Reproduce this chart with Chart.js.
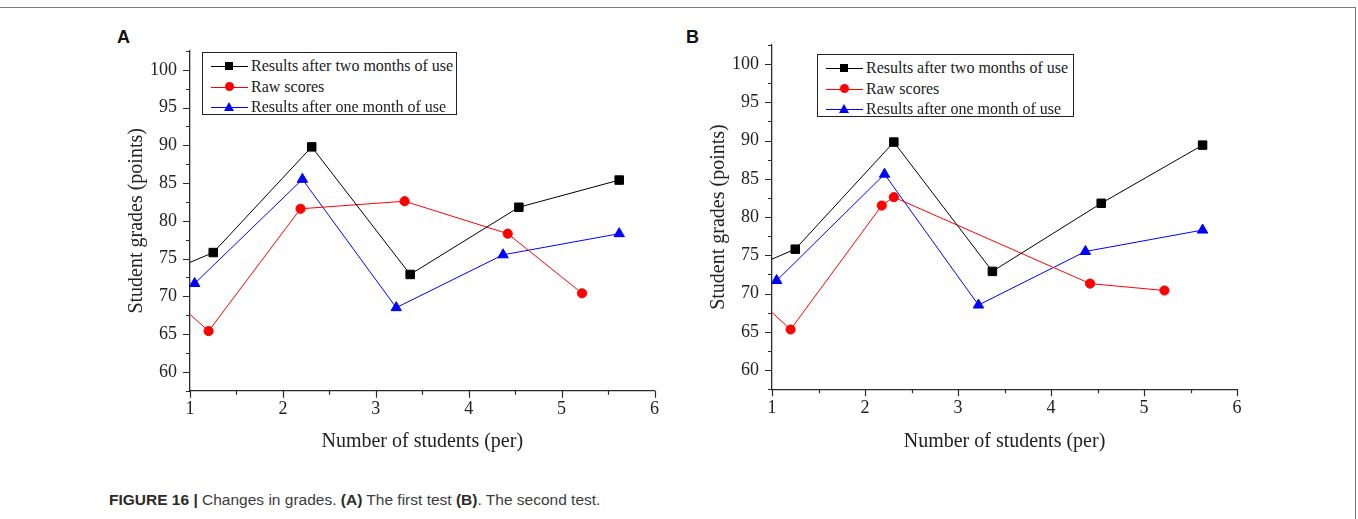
<!DOCTYPE html>
<html lang="en">
<head>
    <meta charset="UTF-8">
    <title>Changes in grades</title>
    <script src="https://cdn.jsdelivr.net/npm/chart.js@4"></script>
    <style>
        body {
            margin: 0;
            width: 1358px;
            height: 519px;
            background: #fff;
            position: relative;
            overflow: hidden;
            font-family: 'Liberation Serif', 'Times New Roman', serif;
        }
        #frame {
            position: absolute;
            left: -10px;
            top: 7px;
            width: 1365px;
            height: 600px;
            border-top: 1.5px solid #7a7a7a;
            border-right: 1.5px solid #7a7a7a;
        }
        canvas {
            position: absolute;
        }
        .tag {
            position: absolute;
            font: bold 18px/18px 'Liberation Sans', Arial, sans-serif;
            color: #111;
        }
        .legend {
            position: absolute;
            box-sizing: border-box;
            border: 1px solid #222;
            background: #fff;
        }
        .legend .row {
            position: absolute;
            left: 0;
            height: 20.5px;
            line-height: 20.5px;
            width: 100%;
            font-size: 16px;
            color: #222;
            white-space: nowrap;
        }
        .legend .ln {
            position: absolute;
            left: 8px;
            width: 37px;
            top: 10px;
            height: 0;
            border-top: 1px solid;
        }
        .legend .mk {
            position: absolute;
        }
        .legend .txt {
            position: absolute;
            left: 48px;
        }
        #caption {
            position: absolute;
            left: 109px;
            top: 491px;
            font: 15.5px/18px 'Liberation Sans', Arial, sans-serif;
            color: #3c3c3c;
            white-space: nowrap;
        }
        #caption b {
            color: #2a2a2a;
        }
    </style>
</head>
<body>
    <div id="frame"></div>
    <div class="tag" style="left:117px;top:27.5px">A</div>
    <div class="tag" style="left:686px;top:27.5px">B</div>
    <canvas id="chartA" width="580" height="440" style="left:100px;top:20px;width:580px;height:440px"></canvas>
    <canvas id="chartB" width="580" height="446" style="left:682px;top:14px;width:580px;height:446px"></canvas>
    <div class="legend" id="legendA" style="left:202px;top:52px;width:255px;height:63px"></div>
    <div class="legend" id="legendB" style="left:817px;top:54px;width:257px;height:63px"></div>
    <div id="caption"><b>FIGURE 16 |</b> Changes in grades. <b>(A)</b> The first test <b>(B)</b>. The second test.</div>

    <script>
        // Series labels and styles (legend order)
        const seriesLabels = ['Results after two months of use', 'Raw scores', 'Results after one month of use'];
        const seriesColors = ['#000000', '#ff0000', '#0000ff'];
        const seriesMarkers = ['rect', 'circle', 'triangle'];

        // Axis ticks
        const xTicks = [1, 2, 3, 4, 5, 6];
        const yTicks = [60, 65, 70, 75, 80, 85, 90, 95, 100];

        // Panel A - first test (first black/red points sit left of the visible axis)
        const twoMonthsAx = [0.5, 1.25, 2.31, 3.37, 4.54, 5.62];
        const twoMonthsAy = [71.9, 75.8, 89.8, 72.9, 81.8, 85.4];
        const rawAx = [0.5, 1.2, 2.19, 3.31, 4.42, 5.22];
        const rawAy = [73.1, 65.4, 81.6, 82.6, 78.3, 70.4];
        const oneMonthAx = [1.05, 2.21, 3.22, 4.37, 5.62];
        const oneMonthAy = [71.7, 85.5, 68.5, 75.5, 78.3];

        // Panel B - second test
        const twoMonthsBx = [0.5, 1.25, 2.31, 3.37, 4.54, 5.63];
        const twoMonthsBy = [71.9, 75.8, 89.8, 72.9, 81.8, 89.4];
        const rawBx = [0.5, 1.2, 2.18, 2.31, 4.42, 5.22];
        const rawBy = [73.1, 65.3, 81.5, 82.6, 71.3, 70.4];
        const oneMonthBx = [1.05, 2.21, 3.22, 4.37, 5.63];
        const oneMonthBy = [71.7, 85.6, 68.5, 75.5, 78.3];

        const axisColor = '#2b2b2b';
        const textColor = '#222';

        function pairs(xs, ys) {
            return xs.map((x, i) => ({ x: x, y: ys[i] }));
        }

        function isOn(v, step) {
            return Math.abs(v / step - Math.round(v / step)) < 1e-6;
        }

        // Outward tick marks: long at labelled values, short in between
        const tickMarks = {
            id: 'tickMarks',
            afterDraw(chart) {
                const ctx = chart.ctx;
                const xs = chart.scales.x;
                const ys = chart.scales.y;
                ctx.save();
                ctx.strokeStyle = axisColor;
                ctx.lineWidth = 1.2;
                ctx.beginPath();
                xs.ticks.forEach(t => {
                    const px = Math.round(xs.getPixelForValue(t.value)) + 0.5;
                    const len = isOn(t.value, 1) ? 7 : 4;
                    ctx.moveTo(px, xs.top);
                    ctx.lineTo(px, xs.top + len);
                });
                ys.ticks.forEach(t => {
                    const py = Math.round(ys.getPixelForValue(t.value)) + 0.5;
                    const len = isOn(t.value, 5) ? 7 : 4;
                    ctx.moveTo(ys.right, py);
                    ctx.lineTo(ys.right - len, py);
                });
                ctx.stroke();
                ctx.restore();
            }
        };

        function makeChart(id, sets, box) {
            const datasets = sets.map((s, i) => ({
                label: seriesLabels[i],
                data: pairs(s[0], s[1]),
                borderColor: seriesColors[i],
                backgroundColor: seriesColors[i],
                borderWidth: 1,
                pointStyle: seriesMarkers[i],
                pointRadius: i === 0 ? 6 : (i === 1 ? 4.6 : 6),
                pointBorderWidth: 1,
                tension: 0,
                clip: i === 2 ? 8 : 0
            }));
            return new Chart(document.getElementById(id), {
                type: 'line',
                data: { datasets: datasets },
                plugins: [tickMarks],
                options: {
                    responsive: false,
                    animation: false,
                    events: [],
                    layout: { padding: { top: box.top, right: box.right, left: 0, bottom: 0 } },
                    plugins: { legend: { display: false }, tooltip: { enabled: false } },
                    scales: {
                        x: {
                            type: 'linear',
                            min: xTicks[0],
                            max: xTicks[xTicks.length - 1],
                            afterFit: s => { s.height = box.xh; },
                            afterBuildTicks: s => {
                                s.ticks = [];
                                for (let v = xTicks[0]; v <= xTicks[xTicks.length - 1] + 1e-9; v += 0.5) s.ticks.push({ value: v });
                            },
                            grid: { display: false, drawTicks: false },
                            border: { color: axisColor, width: 1.3 },
                            ticks: {
                                autoSkip: false,
                                maxRotation: 0,
                                padding: 8,
                                color: textColor,
                                font: { family: 'Liberation Serif', size: 18 },
                                callback: v => xTicks.includes(v) ? String(v) : ''
                            },
                            title: {
                                display: true,
                                text: 'Number of students (per)',
                                color: textColor,
                                font: { family: 'Liberation Serif', size: 20 },
                                padding: { top: 0, bottom: 6.5 }
                            }
                        },
                        y: {
                            type: 'linear',
                            min: 57.5,
                            max: 102.5,
                            afterFit: s => { s.width = 90; },
                            afterBuildTicks: s => {
                                s.ticks = [];
                                for (let v = 57.5; v <= 102.5 + 1e-9; v += 2.5) s.ticks.push({ value: v });
                            },
                            grid: { display: false, drawTicks: false },
                            border: { color: axisColor, width: 1.3 },
                            ticks: {
                                autoSkip: false,
                                padding: 13,
                                color: textColor,
                                font: { family: 'Liberation Serif', size: 18 },
                                callback: v => yTicks.some(t => Math.abs(t - v) < 1e-6) ? String(Math.round(v)) : ''
                            },
                            title: {
                                display: true,
                                text: 'Student grades (points)',
                                color: textColor,
                                font: { family: 'Liberation Serif', size: 20 },
                                padding: { top: 25, bottom: 0 }
                            }
                        }
                    }
                }
            });
        }

        // Legend box built from the chart's own datasets
        function buildLegend(chart, id) {
            const el = document.getElementById(id);
            chart.data.datasets.forEach((ds, i) => {
                const row = document.createElement('div');
                row.className = 'row';
                row.style.top = (3 + i * 20.5) + 'px';
                const ln = document.createElement('span');
                ln.className = 'ln';
                ln.style.borderColor = ds.borderColor;
                const mk = document.createElement('span');
                mk.className = 'mk';
                if (ds.pointStyle === 'rect') {
                    Object.assign(mk.style, { left: '22px', top: '6px', width: '8px', height: '8px', background: ds.borderColor });
                } else if (ds.pointStyle === 'circle') {
                    Object.assign(mk.style, { left: '21.5px', top: '5.5px', width: '9px', height: '9px', borderRadius: '50%', background: ds.borderColor });
                } else {
                    Object.assign(mk.style, {
                        left: '20.5px', top: '5px', width: 0, height: 0,
                        borderLeft: '5.5px solid transparent', borderRight: '5.5px solid transparent',
                        borderBottom: '9.5px solid ' + ds.borderColor
                    });
                }
                const txt = document.createElement('span');
                txt.className = 'txt';
                txt.textContent = ds.label;
                row.appendChild(ln);
                row.appendChild(mk);
                row.appendChild(txt);
                el.appendChild(row);
            });
        }

        const chartA = makeChart('chartA', [
            [twoMonthsAx, twoMonthsAy],
            [rawAx, rawAy],
            [oneMonthAx, oneMonthAy]
        ], { top: 31, right: 25.5, xh: 69.3 });

        const chartB = makeChart('chartB', [
            [twoMonthsBx, twoMonthsBy],
            [rawBx, rawBy],
            [oneMonthBx, oneMonthBy]
        ], { top: 30.9, right: 25, xh: 70.8 });

        buildLegend(chartA, 'legendA');
        buildLegend(chartB, 'legendB');
    </script>
</body>
</html>
